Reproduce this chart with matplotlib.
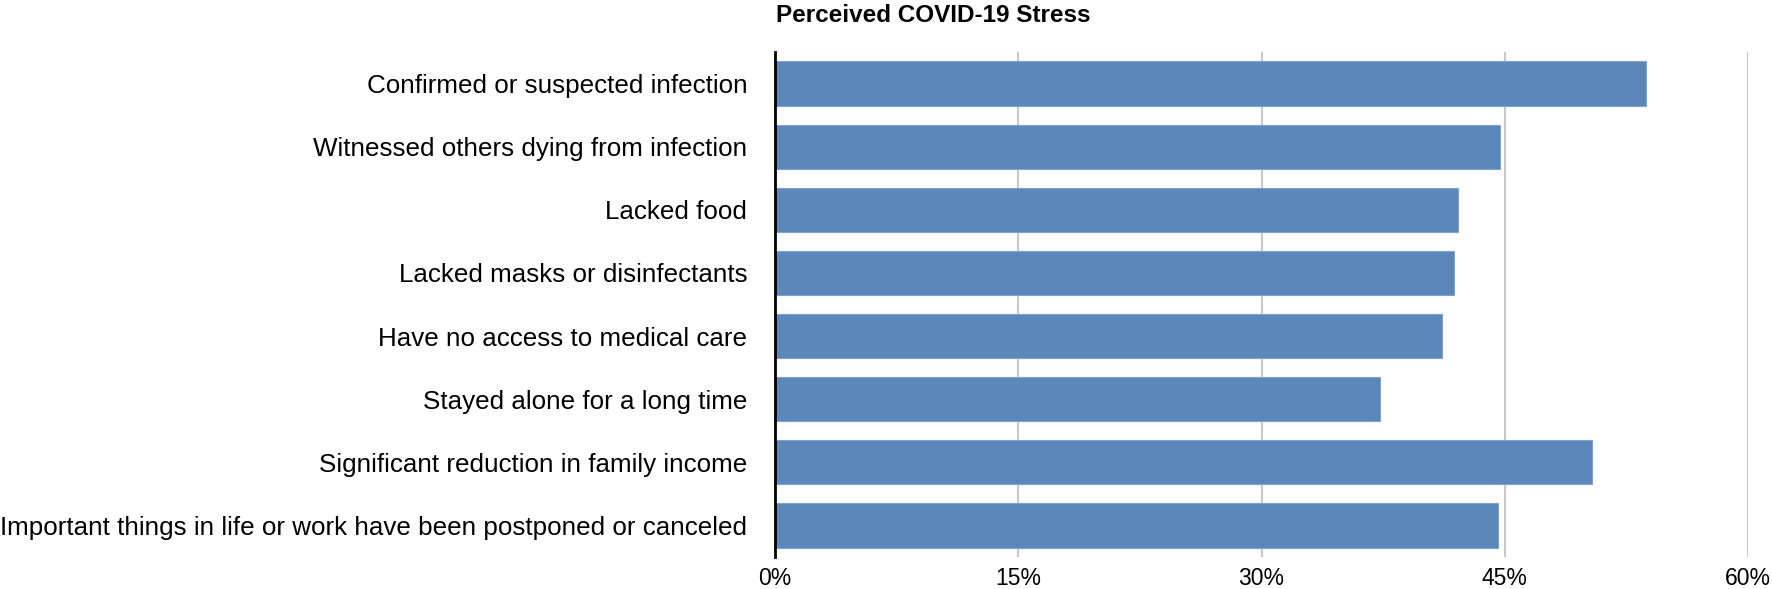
import matplotlib

matplotlib.use("Agg")
import matplotlib.pyplot as plt
from matplotlib.ticker import FuncFormatter

plt.rcParams["font.family"] = ["Liberation Sans", "DejaVu Sans"]

# datos (porcentaje de participantes)
categorias = [
    "Confirmed or suspected infection",
    "Witnessed others dying from infection",
    "Lacked food",
    "Lacked masks or disinfectants",
    "Have no access to medical care",
    "Stayed alone for a long time",
    "Significant reduction in family income",
    "Important things in life or work have been postponed or canceled",
]
valores = [53.7, 44.7, 42.1, 41.9, 41.1, 37.3, 50.4, 44.6]
ticks_x = [0, 15, 30, 45, 60]
titulo = "Perceived COVID-19 Stress"

fig = plt.figure(figsize=(17.72, 5.89), dpi=100)
ax = fig.add_axes([775 / 1772, 1 - 557 / 589, (1748 - 775) / 1772, (557 - 52) / 589])

posiciones = list(range(len(categorias)))
ax.barh(posiciones, valores, height=0.7, color="#5c87ba",
        edgecolor="#7fa3cf", linewidth=0.8, zorder=3)

ax.set_ylim(len(categorias) - 0.5, -0.5)
ax.set_xlim(0, 60)
ax.set_yticks(posiciones)
ax.set_yticklabels(categorias)
ax.set_xticks(ticks_x)
ax.xaxis.set_major_formatter(FuncFormatter(lambda v, _: f"{v:.0f}%"))

ax.tick_params(axis="y", length=0, pad=20, labelsize=18.7)
ax.tick_params(axis="x", length=0, pad=7, labelsize=16.5)

ax.grid(axis="x", color="#c8c8c8", linewidth=1.5, zorder=0)
for lado in ["top", "right", "bottom"]:
    ax.spines[lado].set_visible(False)
ax.spines["left"].set_linewidth(2)
ax.spines["left"].set_color("black")
ax.spines["left"].set_zorder(4)

fig.text(776 / 1772, 1 - 22 / 589, titulo, fontsize=17.5, fontweight="bold",
         ha="left", va="baseline")

fig.savefig("out.png", dpi=100)
